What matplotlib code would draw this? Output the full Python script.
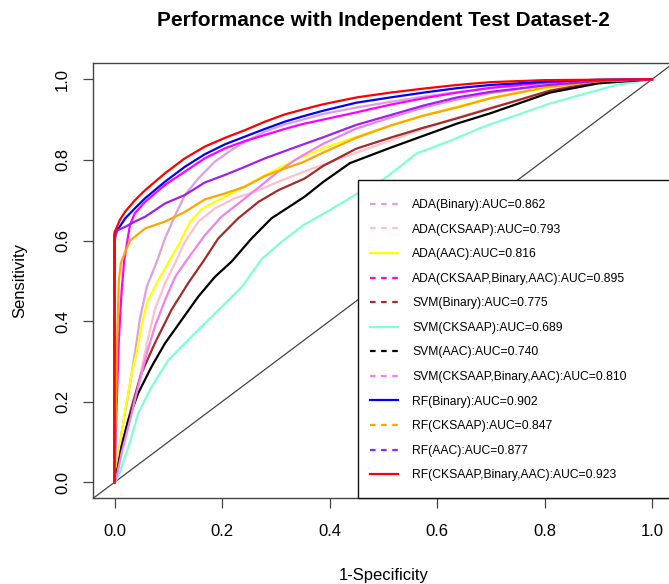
import matplotlib
matplotlib.use("Agg")
from matplotlib import pyplot as plt
from matplotlib.lines import Line2D
from matplotlib.patches import Rectangle

plt.rcParams['font.family'] = ['Liberation Sans', 'DejaVu Sans']

# ROC points (1-specificity, sensitivity)
ada_bin_fpr = [0, 0.005, 0.013, 0.026, 0.038, 0.047, 0.06, 0.078, 0.094, 0.113, 0.131, 0.156, 0.187,
               0.218, 0.249, 0.28, 0.317, 0.35, 0.388, 0.45, 0.513, 0.575, 0.637, 0.70, 0.80, 0.9, 1.0]
ada_bin_tpr = [0, 0.04, 0.122, 0.221, 0.32, 0.403, 0.485, 0.545, 0.605, 0.663, 0.713, 0.754, 0.796,
               0.825, 0.849, 0.87, 0.888, 0.9, 0.914, 0.93, 0.944, 0.957, 0.968, 0.978, 0.99, 0.997, 1.0]

ada_ck_fpr = [0, 0.005, 0.02, 0.035, 0.05, 0.063, 0.075, 0.094, 0.113, 0.131, 0.156, 0.187, 0.224,
              0.261, 0.305, 0.351, 0.388, 0.45, 0.513, 0.575, 0.637, 0.70, 0.81, 0.9, 1.0]
ada_ck_tpr = [0, 0.03, 0.113, 0.196, 0.279, 0.361, 0.428, 0.494, 0.545, 0.597, 0.647, 0.68, 0.705,
              0.721, 0.746, 0.77, 0.788, 0.818, 0.848, 0.877, 0.905, 0.93, 0.968, 0.99, 1.0]

ada_aac_fpr = [0, 0.005, 0.02, 0.032, 0.041, 0.05, 0.06, 0.075, 0.1, 0.119, 0.14, 0.162, 0.193, 0.23,
               0.28, 0.317, 0.342, 0.388, 0.45, 0.513, 0.575, 0.637, 0.70, 0.81, 0.9, 1.0]
ada_aac_tpr = [0, 0.05, 0.18, 0.27, 0.32, 0.386, 0.444, 0.485, 0.545, 0.589, 0.645, 0.678, 0.70, 0.725,
               0.762, 0.787, 0.803, 0.829, 0.857, 0.885, 0.91, 0.932, 0.954, 0.98, 0.994, 1.0]

ada_all_fpr = [0, 0.003, 0.008, 0.013, 0.018, 0.024, 0.029, 0.038, 0.057, 0.094, 0.131, 0.168, 0.206,
               0.243, 0.28, 0.317, 0.35, 0.388, 0.45, 0.513, 0.575, 0.637, 0.70, 0.80, 0.9, 1.0]
ada_all_tpr = [0, 0.15, 0.35, 0.47, 0.55, 0.60, 0.64, 0.668, 0.696, 0.738, 0.771, 0.804, 0.829,
               0.847, 0.862, 0.877, 0.889, 0.9, 0.918, 0.937, 0.953, 0.967, 0.979, 0.992, 0.998, 1.0]

svm_bin_fpr = [0, 0.004, 0.016, 0.032, 0.05, 0.075, 0.106, 0.137, 0.165, 0.193, 0.23, 0.268, 0.305,
               0.354, 0.388, 0.45, 0.513, 0.575, 0.637, 0.70, 0.81, 0.9, 1.0]
svm_bin_tpr = [0, 0.02, 0.105, 0.188, 0.27, 0.345, 0.428, 0.494, 0.548, 0.605, 0.655, 0.696, 0.725,
               0.754, 0.785, 0.828, 0.855, 0.88, 0.903, 0.928, 0.972, 0.993, 1.0]

svm_ck_fpr = [0, 0.007, 0.026, 0.044, 0.069, 0.1, 0.131, 0.162, 0.2, 0.237, 0.274, 0.311, 0.351, 0.40,
              0.45, 0.503, 0.562, 0.624, 0.686, 0.81, 0.934, 1.0]
svm_ck_tpr = [0, 0.014, 0.088, 0.171, 0.237, 0.303, 0.345, 0.386, 0.436, 0.485, 0.554, 0.597, 0.638,
              0.675, 0.715, 0.754, 0.816, 0.847, 0.882, 0.94, 0.986, 1.0]

svm_aac_fpr = [0, 0.004, 0.013, 0.026, 0.044, 0.069, 0.094, 0.125, 0.156, 0.187, 0.218, 0.255, 0.292,
               0.33, 0.354, 0.388, 0.438, 0.513, 0.575, 0.637, 0.70, 0.81, 0.9, 1.0]
svm_aac_tpr = [0, 0.02, 0.088, 0.155, 0.221, 0.287, 0.345, 0.403, 0.461, 0.51, 0.548, 0.605, 0.655,
               0.688, 0.709, 0.745, 0.792, 0.83, 0.86, 0.89, 0.916, 0.967, 0.99, 1.0]

svm_all_fpr = [0, 0.005, 0.013, 0.029, 0.044, 0.06, 0.075, 0.094, 0.113, 0.131, 0.168, 0.199, 0.243,
               0.274, 0.305, 0.336, 0.354, 0.388, 0.45, 0.513, 0.575, 0.637, 0.70, 0.81, 0.9, 1.0]
svm_all_tpr = [0, 0.02, 0.072, 0.155, 0.237, 0.32, 0.386, 0.452, 0.51, 0.545, 0.613, 0.659, 0.705,
               0.738, 0.771, 0.8, 0.814, 0.84, 0.878, 0.905, 0.93, 0.95, 0.966, 0.986, 0.996, 1.0]

rf_bin_fpr = [0, 0, 0.01, 0.02, 0.038, 0.057, 0.094, 0.131, 0.168, 0.206, 0.243, 0.28, 0.317, 0.35,
              0.388, 0.45, 0.513, 0.575, 0.637, 0.70, 0.80, 0.9, 1.0]
rf_bin_tpr = [0, 0.615, 0.635, 0.655, 0.68, 0.705, 0.746, 0.783, 0.814, 0.839, 0.858, 0.877, 0.895,
              0.908, 0.922, 0.942, 0.955, 0.967, 0.978, 0.986, 0.994, 0.999, 1.0]

rf_ck_fpr = [0, 0.004, 0.008, 0.012, 0.02, 0.029, 0.057, 0.094, 0.131, 0.168, 0.206, 0.243, 0.28,
             0.317, 0.35, 0.388, 0.45, 0.513, 0.575, 0.637, 0.70, 0.80, 0.9, 1.0]
rf_ck_tpr = [0, 0.3, 0.5, 0.545, 0.572, 0.6, 0.63, 0.647, 0.671, 0.702, 0.717, 0.734, 0.76,
             0.779, 0.794, 0.818, 0.855, 0.885, 0.91, 0.93, 0.953, 0.98, 0.995, 1.0]

rf_aac_fpr = [0, 0, 0.005, 0.02, 0.038, 0.057, 0.094, 0.131, 0.168, 0.206, 0.243, 0.28, 0.317, 0.35,
              0.388, 0.45, 0.513, 0.575, 0.637, 0.70, 0.80, 0.9, 1.0]
rf_aac_tpr = [0, 0.60, 0.625, 0.634, 0.647, 0.659, 0.692, 0.713, 0.744, 0.763, 0.783, 0.804, 0.822,
              0.838, 0.856, 0.887, 0.911, 0.935, 0.955, 0.969, 0.985, 0.996, 1.0]

rf_all_fpr = [0, 0, 0.005, 0.01, 0.02, 0.038, 0.057, 0.094, 0.131, 0.168, 0.206, 0.243, 0.28, 0.317,
              0.35, 0.388, 0.45, 0.513, 0.575, 0.637, 0.70, 0.80, 1.0]
rf_all_tpr = [0, 0.62, 0.635, 0.651, 0.672, 0.70, 0.725, 0.767, 0.804, 0.833, 0.855, 0.874, 0.895,
              0.913, 0.925, 0.938, 0.955, 0.967, 0.977, 0.986, 0.993, 0.998, 1.0]

labels = [
    "ADA(Binary):AUC=0.862", "ADA(CKSAAP):AUC=0.793", "ADA(AAC):AUC=0.816",
    "ADA(CKSAAP,Binary,AAC):AUC=0.895", "SVM(Binary):AUC=0.775", "SVM(CKSAAP):AUC=0.689",
    "SVM(AAC):AUC=0.740", "SVM(CKSAAP,Binary,AAC):AUC=0.810", "RF(Binary):AUC=0.902",
    "RF(CKSAAP):AUC=0.847", "RF(AAC):AUC=0.877", "RF(CKSAAP,Binary,AAC):AUC=0.923",
]
colors = ['#DDA0DD', '#FFC0CB', '#FFFF00', '#FF00FF', '#A52A2A', '#7FFFD4',
          '#000000', '#EE82EE', '#0000FF', '#FFA500', '#A020F0', '#FF0000']
legend_styles = ['--', '--', '-'] * 4

curves = [
    (ada_bin_fpr, ada_bin_tpr), (ada_ck_fpr, ada_ck_tpr), (ada_aac_fpr, ada_aac_tpr),
    (ada_all_fpr, ada_all_tpr), (svm_bin_fpr, svm_bin_tpr), (svm_ck_fpr, svm_ck_tpr),
    (svm_aac_fpr, svm_aac_tpr), (svm_all_fpr, svm_all_tpr), (rf_bin_fpr, rf_bin_tpr),
    (rf_ck_fpr, rf_ck_tpr), (rf_aac_fpr, rf_aac_tpr), (rf_all_fpr, rf_all_tpr),
]

W, H = 669, 584
fig = plt.figure(figsize=(W / 100, H / 100), dpi=100)
# plot region in pixels (extends a little past the right edge like the original)
left, right, top, bottom = 93, 673.5, 63.2, 498.4
ax = fig.add_axes([left / W, 1 - bottom / H, (right - left) / W, (bottom - top) / H])

for (fpr, tpr), c in zip(curves, colors):
    ax.plot(fpr, tpr, color=c, lw=1.6, solid_joinstyle='round')

ax.axline((0, 0), slope=1, color='#444444', lw=0.9, zorder=1)

ax.set_xlim(-0.04, 1.04)
ax.set_ylim(-0.04, 1.04)
ticks = [0, 0.2, 0.4, 0.6, 0.8, 1.0]
ax.set_xticks(ticks)
ax.set_yticks(ticks)
ax.set_xticklabels([f"{t:.1f}" for t in ticks])
ax.set_yticklabels([f"{t:.1f}" for t in ticks], rotation=90, va='center')
ax.tick_params(length=7.5, width=0.9, color='#444444', labelsize=12)
ax.tick_params(axis='x', pad=11)
ax.tick_params(axis='y', pad=9)
for sp in ax.spines.values():
    sp.set_color('#444444')
    sp.set_linewidth(1.0)

ax.set_xlabel('1-Specificity', fontsize=12, labelpad=21)
ax.set_ylabel('Sensitivity', fontsize=12, labelpad=20)
ax.set_title('Performance with Independent Test Dataset-2', fontsize=15,
             fontweight='bold', pad=27)

# legend box anchored at the bottom-right corner of the plot
lx = (358 - left) / (right - left)
ly = (bottom - 180) / (bottom - top)
ax.add_patch(Rectangle((lx, 0), 1 - lx, ly, transform=ax.transAxes, facecolor='white',
                       edgecolor='#111111', lw=1.0, zorder=4, clip_on=False))

handles = []
for c, s in zip(colors, legend_styles):
    h = Line2D([], [], color=c, lw=1.6)
    if s == '--':
        h.set_dashes((2.5, 2.5))
    handles.append(h)

leg = ax.legend(handles, labels, loc='upper left',
                bbox_to_anchor=(lx, (bottom - 187) / (bottom - top)),
                frameon=False, fontsize=8.7, borderaxespad=0, borderpad=1.0,
                handlelength=2.3, handletextpad=1.16, labelspacing=1.04)
leg.set_zorder(5)

fig.savefig('out.png', dpi=100)
